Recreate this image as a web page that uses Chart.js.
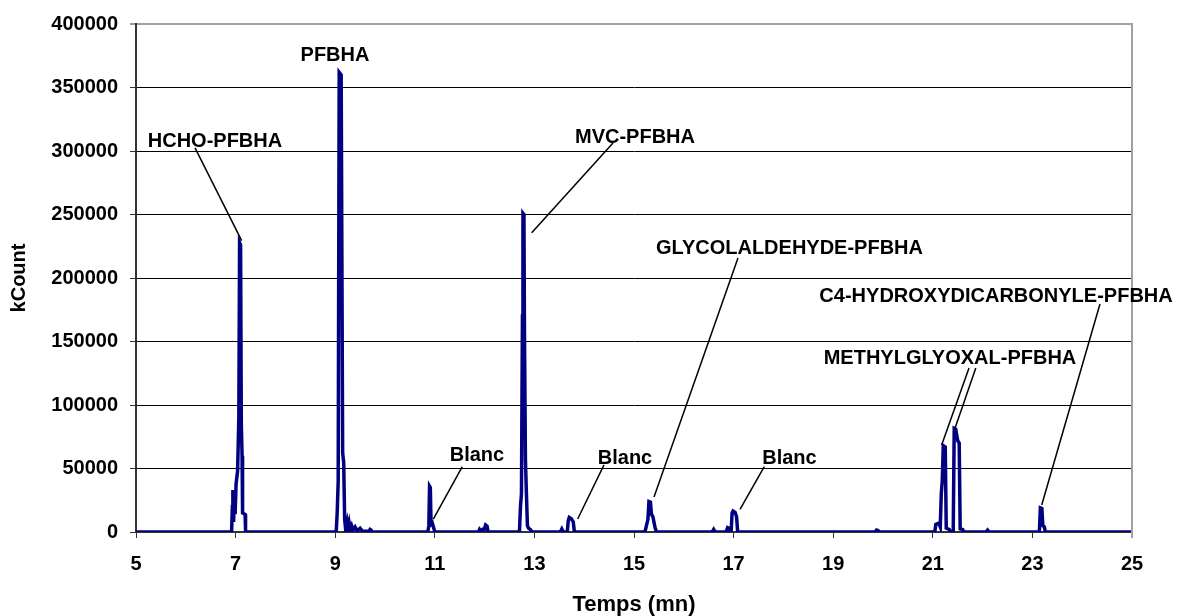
<!DOCTYPE html>
<html>
<head>
<meta charset="utf-8">
<script src="https://cdn.jsdelivr.net/npm/chart.js"></script>
<style>
  html, body { margin: 0; padding: 0; background: #fff; }
</style>
</head>
<body>
<canvas id="chromato" width="1178" height="616"></canvas>
<script>
// temps de rétention (mn) et signal (kCount) du chromatogramme
var temps = [
  5.00,
  6.92, 6.935, 6.945, 6.96, 6.975, 6.99, 7.01, 7.04, 7.065, 7.08, 7.10, 7.115, 7.13, 7.14, 7.19, 7.20, 7.22,
  9.02, 9.04, 9.06, 9.08, 9.12, 9.15, 9.17, 9.19, 9.21, 9.24, 9.26, 9.28, 9.30, 9.33, 9.36, 9.40, 9.44, 9.50, 9.55, 9.68, 9.70, 9.72, 9.74,
  10.86, 10.88, 10.895, 10.91, 10.925, 10.95, 10.98, 11.00,
  11.88, 11.90, 11.93, 11.96, 11.99, 12.02, 12.05, 12.07,
  12.70, 12.72, 12.74, 12.76, 12.77, 12.79, 12.80, 12.82, 12.84, 12.86, 12.88, 12.92, 12.95,
  13.52, 13.55, 13.58,
  13.66, 13.68, 13.70, 13.74, 13.78, 13.80, 13.82,
  15.22, 15.25, 15.28, 15.30, 15.33, 15.35, 15.38, 15.42, 15.45,
  16.57, 16.60, 16.63,
  16.85, 16.88, 16.91, 16.93,
  16.95, 16.97, 16.99, 17.03, 17.06, 17.08, 17.10,
  19.84, 19.87, 19.90, 19.93,
  21.04, 21.06, 21.12, 21.15, 21.17, 21.19, 21.21, 21.25, 21.27, 21.33, 21.35,
  21.41, 21.43, 21.46, 21.50, 21.53, 21.55, 21.60, 21.62,
  22.07, 22.10, 22.13,
  23.14, 23.16, 23.19, 23.21, 23.24, 23.26,
  25.00
];
var kcount = [
  0,
  0, 20000, 33000, 8000, 30000, 14000, 38000, 48000, 90000, 228000, 226000, 85000, 60000, 15000, 14000, 1000, 0,
  0, 15000, 40000, 362000, 360000, 62000, 55000, 10000, 2000, 8000, 3000, 7000, 2000, 5000, 1500, 4000, 1000, 3000, 500, 500, 2000, 1500, 0,
  0, 5000, 36000, 35000, 6000, 7000, 3000, 0,
  0, 2000, 500, 2000, 1500, 5500, 4500, 0,
  0, 20000, 30000, 170000, 251000, 250000, 160000, 57000, 30000, 5000, 3000, 2000, 0,
  0, 2400, 0,
  0, 9000, 11500, 10500, 8000, 1000, 0,
  0, 5000, 10000, 24000, 23500, 14000, 12000, 4000, 0,
  0, 2000, 0,
  0, 3500, 3000, 0,
  0, 15000, 16500, 15500, 12000, 1000, 0,
  0, 1500, 1200, 0,
  0, 6000, 7000, 4000, 30000, 40000, 68000, 67000, 3000, 2000, 0,
  0, 81600, 81000, 72000, 70000, 2500, 2000, 0,
  0, 1500, 0,
  0, 19000, 18500, 5000, 4000, 0,
  0
];

var xTicks = [5, 7, 9, 11, 13, 15, 17, 19, 21, 23, 25];
var yTicks = [0, 50000, 100000, 150000, 200000, 250000, 300000, 350000, 400000];

// noms des pics, position du texte (mn, kCount)
var nomsPics = ['HCHO-PFBHA', 'PFBHA', 'MVC-PFBHA', 'GLYCOLALDEHYDE-PFBHA', 'Blanc', 'Blanc', 'Blanc',
  'METHYLGLYOXAL-PFBHA', 'C4-HYDROXYDICARBONYLE-PFBHA'];
var posNoms = [[6.586, 307100], [8.996, 375600], [15.02, 311000], [18.122, 223600], [11.847, 60600],
  [14.819, 57500], [18.122, 57500], [21.345, 137000], [22.27, 185800]];
// traits de rappel : début (mn, kCount) -> fin (mn, kCount)
var traits = [
  [6.185, 302400, 7.122, 229400],
  [14.578, 306300, 12.946, 235700],
  [17.088, 215700, 15.402, 27600],
  [11.552, 51400, 10.970, 10200],
  [14.398, 52800, 13.869, 10200],
  [17.616, 51400, 17.129, 17900],
  [21.727, 129100, 21.178, 68500],
  [21.863, 129100, 21.446, 81700],
  [24.357, 179500, 23.187, 21300]
];

var points = temps.map(function(t, i) { return { x: t, y: kcount[i] }; });

Chart.defaults.font.family = '"Liberation Sans", Arial, sans-serif';
Chart.defaults.color = '#000';

var etiquettes = {
  id: 'etiquettes',
  afterDatasetsDraw: function(chart) {
    var c = chart.ctx;
    var xs = chart.scales.x, ys = chart.scales.y;
    var a = chart.chartArea;
    c.save();
    // bord droit du cadre
    c.strokeStyle = '#a0a0a0';
    c.lineWidth = 2;
    c.beginPath();
    c.moveTo(a.right, a.top - 1);
    c.lineTo(a.right, a.bottom + 6);
    c.stroke();

    c.strokeStyle = '#000';
    c.lineWidth = 1.5;
    traits.forEach(function(t) {
      c.beginPath();
      c.moveTo(xs.getPixelForValue(t[0]), ys.getPixelForValue(t[1]));
      c.lineTo(xs.getPixelForValue(t[2]), ys.getPixelForValue(t[3]));
      c.stroke();
    });

    c.font = 'bold 20px "Liberation Sans", Arial, sans-serif';
    c.fillStyle = '#000';
    c.textAlign = 'center';
    c.textBaseline = 'middle';
    nomsPics.forEach(function(nom, i) {
      c.fillText(nom, xs.getPixelForValue(posNoms[i][0]), ys.getPixelForValue(posNoms[i][1]));
    });
    c.restore();
  }
};

new Chart(document.getElementById('chromato'), {
  type: 'line',
  data: {
    datasets: [{
      data: points,
      borderColor: '#000080',
      borderWidth: 3.5,
      pointRadius: 0,
      tension: 0,
      fill: false
    }]
  },
  options: {
    responsive: false,
    animation: false,
    layout: { padding: { left: 0, right: 46, top: 24, bottom: 0 } },
    plugins: {
      legend: { display: false },
      tooltip: { enabled: false }
    },
    scales: {
      x: {
        type: 'linear',
        min: 5,
        max: 25,
        afterBuildTicks: function(s) { s.ticks = xTicks.map(function(v) { return { value: v }; }); },
        afterFit: function(s) { s.height = 84; },
        ticks: {
          font: { size: 20, weight: 'bold' },
          padding: 14,
          maxRotation: 0,
          callback: function(v) { return String(v); }
        },
        grid: { drawOnChartArea: false, tickLength: 6, color: '#333', tickColor: '#333' },
        border: { color: '#333', width: 2 },
        title: {
          display: true,
          text: 'Temps (mn)',
          font: { size: 22, weight: 'bold', lineHeight: 1 },
          padding: { top: 0, bottom: 0 }
        }
      },
      y: {
        min: 0,
        max: 400000,
        afterBuildTicks: function(s) { s.ticks = yTicks.map(function(v) { return { value: v }; }); },
        afterFit: function(s) { s.width = 136; },
        ticks: {
          font: { size: 20, weight: 'bold' },
          padding: 12,
          callback: function(v) { return String(v); }
        },
        grid: {
          tickLength: 6,
          tickColor: '#333',
          tickWidth: 1,
          color: function(ctx) { return ctx.tick && ctx.tick.value === 400000 ? '#a0a0a0' : '#000'; },
          lineWidth: function(ctx) { return ctx.tick && ctx.tick.value === 400000 ? 2 : 1; }
        },
        border: { color: '#333', width: 2 },
        title: {
          display: true,
          text: 'kCount',
          font: { size: 20, weight: 'bold', lineHeight: 1 },
          padding: { top: 9, bottom: 0 }
        }
      }
    }
  },
  plugins: [etiquettes]
});
</script>
</body>
</html>
